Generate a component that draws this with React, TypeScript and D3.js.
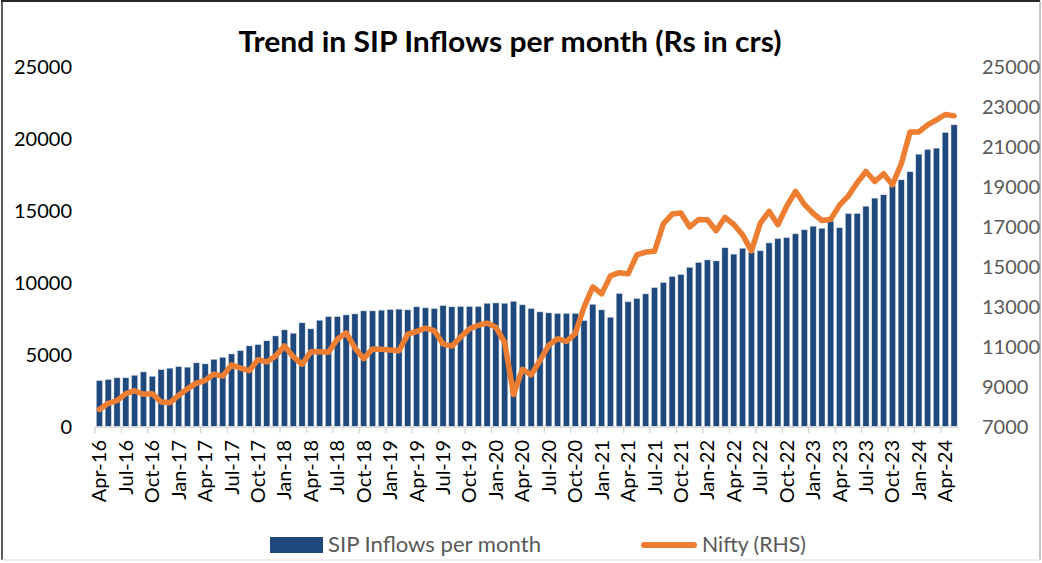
import React from 'react';
import * as d3 from 'd3';

// months Apr-16 .. May-24
const monthNames = ['Jan', 'Feb', 'Mar', 'Apr', 'May', 'Jun', 'Jul', 'Aug', 'Sep', 'Oct', 'Nov', 'Dec'];
const months: string[] = [];
for (let i = 0; i < 98; i++) {
  const m = (3 + i) % 12;
  const y = 16 + Math.floor((3 + i) / 12);
  months.push(`${monthNames[m]}-${y}`);
}

// SIP inflows per month (Rs crs)
const sipInflows = [
  3190, 3260, 3380, 3380, 3560, 3790, 3490, 3950, 4050,
  4160, 4120, 4420, 4350, 4670, 4810, 5040, 5270, 5600, 5690, 5950, 6290,
  6710, 6480, 7200, 6780, 7380, 7630, 7630, 7750, 7820, 8030, 8030, 8080,
  8120, 8150, 8100, 8310, 8240, 8190, 8400, 8310, 8330, 8330, 8330, 8560,
  8580, 8560, 8700, 8450, 8190, 7960, 7890, 7850, 7850, 7850, 7360, 8490,
  8100, 7590, 9240, 8660, 8890, 9210, 9650, 10000, 10420, 10560, 11060, 11390,
  11570, 11500, 12410, 11970, 12380, 12110, 12200, 12750, 13050, 13120, 13380, 13660,
  13910, 13770, 14260, 13800, 14790, 14790, 15300, 15860, 16090, 16710, 17130, 17690,
  18910, 19240, 19330, 20420, 20950,
];

// Nifty month-end level (RHS)
const nifty = [
  7850, 8160, 8290, 8640, 8790, 8610, 8640, 8220, 8190,
  8560, 8880, 9170, 9300, 9620, 9520, 10080, 9920, 9790, 10340, 10230, 10530,
  11030, 10490, 10110, 10740, 10740, 10710, 11360, 11680, 10930, 10390, 10880, 10860,
  10830, 10790, 11620, 11750, 11920, 11790, 11120, 11020, 11470, 11880, 12060, 12170,
  11960, 11200, 8600, 9860, 9580, 10300, 11070, 11390, 11250, 11640, 12970, 13980,
  13630, 14530, 14690, 14630, 15580, 15720, 15760, 17130, 17620, 17670, 16980, 17350,
  17340, 16790, 17460, 17100, 16580, 15780, 17160, 17760, 17090, 18010, 18760, 18110,
  17660, 17300, 17360, 18070, 18530, 19190, 19750, 19250, 19640, 19080, 20130, 21730,
  21730, 22080, 22330, 22600, 22530,
];

const leftTicks = [0, 5000, 10000, 15000, 20000, 25000];
const rightTicks = [7000, 9000, 11000, 13000, 15000, 17000, 19000, 21000, 23000, 25000];

const W = 1042;
const H = 563;
const FONT = 'Lato, "Open Sans", sans-serif';

export default function App() {
  const x = d3.scaleBand<string>().domain(months).range([95, 958.5]).paddingInner(0.3).paddingOuter(0.15);
  const yL = d3.scaleLinear().domain([0, 25000]).range([426.5, 66.5]);
  const yR = d3.scaleLinear().domain([7000, 25000]).range([426.5, 66.5]);
  const step = x.step();
  const cx = (m: string) => (x(m) as number) + x.bandwidth() / 2;

  const line = d3.line<number>()
    .x((_, i) => cx(months[i]))
    .y(d => yR(d));

  const tickIdx = d3.range(0, 98, 3);

  return (
    <svg width={W} height={H} style={{ position: 'absolute', left: 0, top: 0, background: '#fff' }} fontFamily={FONT}>
      <rect x={0} y={0} width={W} height={H} fill="#fff" />
      <line x1={1} y1={1} x2={W - 2} y2={1} stroke="#262626" strokeWidth={2} />
      <line x1={2} y1={1} x2={2} y2={H - 3} stroke="#262626" strokeWidth={1.5} />
      <line x1={W - 2} y1={1} x2={W - 2} y2={H - 3} stroke="#8c8c8c" strokeWidth={1} />
      <line x1={2} y1={H - 3} x2={W - 2} y2={H - 3} stroke="#e6e6e6" strokeWidth={1.5} />

      <text x={510} y={52} textAnchor="middle" fontSize={28} fontWeight="bold" fill="#000"
        textLength={543} lengthAdjust="spacingAndGlyphs">
        Trend in SIP Inflows per month (Rs in crs)
      </text>

      {/* bars */}
      {sipInflows.map((v, i) => (
        <rect key={i} x={x(months[i])} y={yL(v)} width={x.bandwidth()} height={yL(0) - yL(v)}
          fill="#1F497D" stroke="#d6dfea" strokeWidth={0.5} />
      ))}

      {/* category axis */}
      <line x1={95} x2={958.5} y1={427} y2={427} stroke="#d9d9d9" strokeWidth={1.5} />
      {tickIdx.map(i => (
        <line key={i} x1={95 + i * step} x2={95 + i * step} y1={427} y2={433} stroke="#d9d9d9" strokeWidth={1.5} />
      ))}
      {tickIdx.map(i => (
        <text key={'l' + i} transform={`translate(${cx(months[i])},440) rotate(-90)`}
          textAnchor="end" dy="0.35em" fontSize={20} fill="#000">
          {months[i]}
        </text>
      ))}

      {/* nifty line */}
      <path d={line(nifty) || ''} fill="none" stroke="#ED7D31" strokeWidth={5.5}
        strokeLinejoin="round" strokeLinecap="round" />

      {/* left axis labels */}
      {leftTicks.map(t => (
        <text key={t} x={72} y={yL(t)} dy="0.35em" textAnchor="end" fontSize={20} fill="#000">{t}</text>
      ))}
      {/* right axis labels */}
      {rightTicks.map(t => (
        <text key={t} x={982} y={yR(t)} dy="0.35em" textAnchor="start" fontSize={20} fill="#595959">{t}</text>
      ))}

      {/* legend */}
      <rect x={270} y={537} width={53} height={16} fill="#1F497D" />
      <text x={328} y={552} fontSize={21} fill="#595959" textLength={213} lengthAdjust="spacingAndGlyphs">SIP Inflows per month</text>
      <line x1={644} x2={694} y1={545} y2={545} stroke="#ED7D31" strokeWidth={6} strokeLinecap="round" />
      <text x={702} y={552} fontSize={21} fill="#595959" textLength={104} lengthAdjust="spacingAndGlyphs">Nifty (RHS)</text>
    </svg>
  );
}
